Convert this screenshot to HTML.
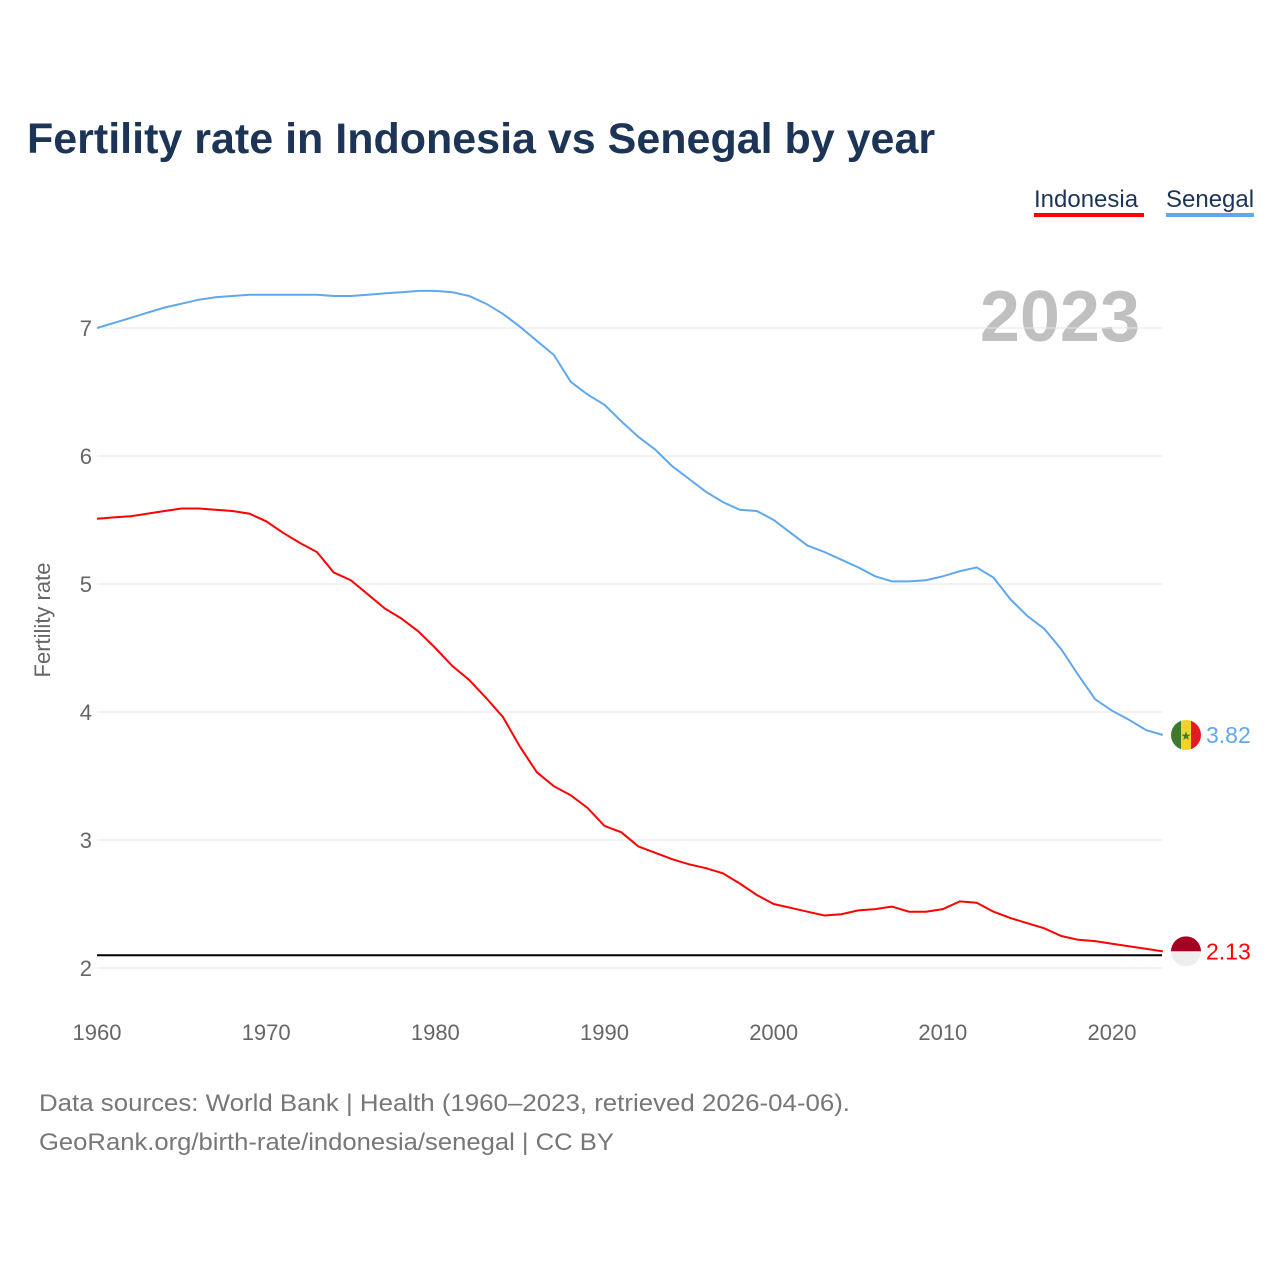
<!DOCTYPE html>
<html><head><meta charset="utf-8"><style>
body{margin:0;background:#fff;font-family:"Liberation Sans",sans-serif}
svg text{font-family:"Liberation Sans",sans-serif}
</style></head><body>
<svg id="c" width="1280" height="1280">
<text x="27" y="153" font-size="43" font-weight="bold" fill="#1c3557">Fertility rate in Indonesia vs Senegal by year</text>
<g><text x="1034" y="207" font-size="24" fill="#1c3557">Indonesia</text><rect x="1034" y="213" width="110" height="4" fill="#ff0000"/></g>
<g><text x="1166" y="207" font-size="24" fill="#1c3557">Senegal</text><rect x="1166" y="213" width="88" height="4" fill="#5fa8ee"/></g>
<text x="1140" y="341" font-size="72" font-weight="bold" fill="#c0c0c0" text-anchor="end">2023</text>
<text transform="translate(50,620) rotate(-90)" font-size="22" fill="#666" text-anchor="middle">Fertility rate</text>
<g id="grid"></g><g id="series"></g>
<text x="39" y="1111" font-size="24" fill="#777" textLength="811" lengthAdjust="spacingAndGlyphs">Data sources: World Bank | Health (1960–2023, retrieved 2026-04-06).</text>
<text x="39" y="1150" font-size="24" fill="#777" textLength="575" lengthAdjust="spacingAndGlyphs">GeoRank.org/birth-rate/indonesia/senegal | CC BY</text>
</svg>
<script>
const years=[];for(let y=1960;y<=2023;y++)years.push(y);
const senegal=[7.0,7.04,7.08,7.12,7.16,7.19,7.22,7.24,7.25,7.26,7.26,7.26,7.26,7.26,7.25,7.25,7.26,7.27,7.28,7.29,7.29,7.28,7.25,7.19,7.11,7.01,6.90,6.79,6.58,6.48,6.40,6.27,6.15,6.05,5.92,5.82,5.72,5.64,5.58,5.57,5.50,5.40,5.30,5.25,5.19,5.13,5.06,5.02,5.02,5.03,5.06,5.10,5.13,5.05,4.88,4.75,4.65,4.49,4.29,4.10,4.01,3.94,3.86,3.82];
const indonesia=[5.51,5.52,5.53,5.55,5.57,5.59,5.59,5.58,5.57,5.55,5.49,5.40,5.32,5.25,5.09,5.03,4.92,4.81,4.73,4.63,4.50,4.36,4.25,4.11,3.96,3.73,3.53,3.42,3.35,3.25,3.11,3.06,2.95,2.90,2.85,2.81,2.78,2.74,2.66,2.57,2.50,2.47,2.44,2.41,2.42,2.45,2.46,2.48,2.44,2.44,2.46,2.52,2.51,2.44,2.39,2.35,2.31,2.25,2.22,2.21,2.19,2.17,2.15,2.13];
const yTicks=[2,3,4,5,6,7];
const xTicks=[1960,1970,1980,1990,2000,2010,2020];
const refValue=2.1;
const NS="http://www.w3.org/2000/svg";
const X=y=>97+(y-1960)*(1015/60);
const Y=v=>968-(v-2)*128;
function mk(t,a,p){const e=document.createElementNS(NS,t);for(const k in a)e.setAttribute(k,a[k]);p.appendChild(e);return e;}
const g=document.getElementById('grid'),s=document.getElementById('series');
yTicks.forEach(v=>{
 const l=mk('line',{x1:97,x2:1162,y1:Y(v),y2:Y(v),stroke:'#e6e6e6','stroke-width':1},g);
 
 
 const t=mk('text',{x:92,y:Y(v)+8,'font-size':22,fill:'#666','text-anchor':'end'},g);t.textContent=v;
 
 
});
xTicks.forEach(v=>{
 const t=mk('text',{x:X(v),y:1040,'font-size':22,fill:'#666','text-anchor':'middle'},g);t.textContent=v;
 
 
});
const ref=mk('line',{x1:97,x2:1162,y1:Y(refValue),y2:Y(refValue),stroke:'#000','stroke-width':2},g);


function line(data,color,name){
 const p=mk('path',{d:data.map((v,i)=>(i?'L':'M')+X(years[i]).toFixed(1)+','+Y(v).toFixed(1)).join(''),fill:'none',stroke:color,'stroke-width':2},s);
 
 
}
line(senegal,'#5fa8ee','senegal-line');
line(indonesia,'#ff0000','indonesia-line');
function endLabel(data,color,name,flag){
 const v=data[data.length-1],cy=Y(v),cx=1186;
 const f=mk('g',{},s);
 
 
 if(flag==='sn'){
  mk('clipPath',{id:'csn'},f).appendChild(document.createElementNS(NS,'circle')).setAttribute('r',15);
  document.querySelector('#csn circle').setAttribute('cx',cx);document.querySelector('#csn circle').setAttribute('cy',cy);
  const gg=mk('g',{'clip-path':'url(#csn)'},f);
  mk('rect',{x:cx-15,y:cy-15,width:10,height:30,fill:'#3d7a2e'},gg);
  mk('rect',{x:cx-5,y:cy-15,width:10,height:30,fill:'#f5d22a'},gg);
  mk('rect',{x:cx+5,y:cy-15,width:10,height:30,fill:'#e31b23'},gg);
  mk('text',{x:cx,y:cy+5,'font-size':12,fill:'#3d7a2e','text-anchor':'middle'},gg).textContent='★';
 }else{
  mk('clipPath',{id:'cid'},f).appendChild(document.createElementNS(NS,'circle')).setAttribute('r',15);
  document.querySelector('#cid circle').setAttribute('cx',cx);document.querySelector('#cid circle').setAttribute('cy',cy);
  const gg=mk('g',{'clip-path':'url(#cid)'},f);
  mk('rect',{x:cx-15,y:cy-15,width:30,height:15,fill:'#a50021'},gg);
  mk('rect',{x:cx-15,y:cy,width:30,height:15,fill:'#eeeeee'},gg);
 }
 const t=mk('text',{x:1206,y:cy+8,'font-size':23,fill:color},s);t.textContent=v.toFixed(2);
 
 
}
endLabel(senegal,'#5fa8ee','senegal','sn');
endLabel(indonesia,'#ff0000','indonesia','id');
</script>
</body></html>
